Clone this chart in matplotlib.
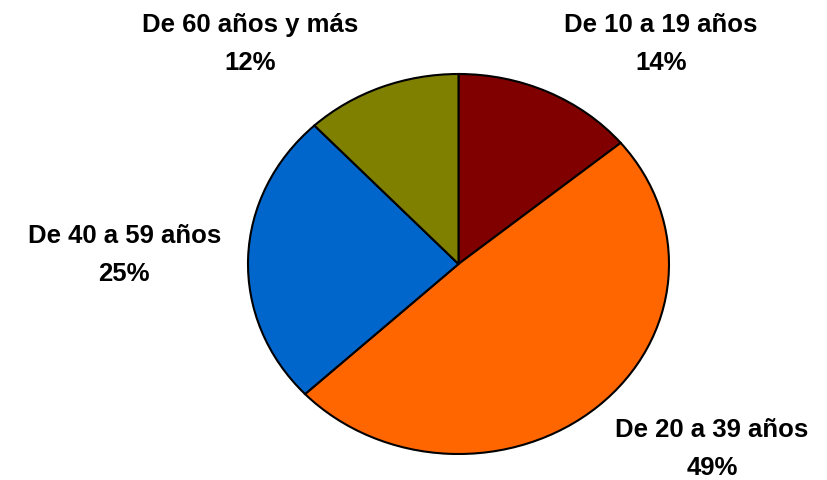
import matplotlib.pyplot as plt

# Datos
grupos = ['De 10 a 19 años', 'De 20 a 39 años', 'De 40 a 59 años', 'De 60 años y más']
porcentajes = [14, 49, 25, 12]
colores = ['#800000', '#FF6600', '#0066CC', '#808000']

# posiciones de las etiquetas (fracción de figura)
pos_etiquetas = [(0.798, 0.908), (0.860, 0.064), (0.150, 0.469), (0.302, 0.908)]

plt.rcParams['font.family'] = ['Liberation Sans', 'DejaVu Sans']

fig = plt.figure(figsize=(8.28, 4.80), dpi=100)
ax = fig.add_axes([248 / 828, 26 / 480, 421 / 828, 380 / 480])

ax.pie(porcentajes, colors=colores, startangle=90, counterclock=False,
       wedgeprops={'edgecolor': 'black', 'linewidth': 1.5})
ax.set_aspect('auto')
ax.set_xlim(-1.0, 1.0)
ax.set_ylim(-1.0, 1.0)
ax.axis('off')

for g, p, (x, y) in zip(grupos, porcentajes, pos_etiquetas):
    fig.text(x, y, f'{g}\n{p}%', ha='center', va='center', fontsize=18.5,
             fontweight='bold', linespacing=1.75)

plt.savefig('out.png', dpi=100)
